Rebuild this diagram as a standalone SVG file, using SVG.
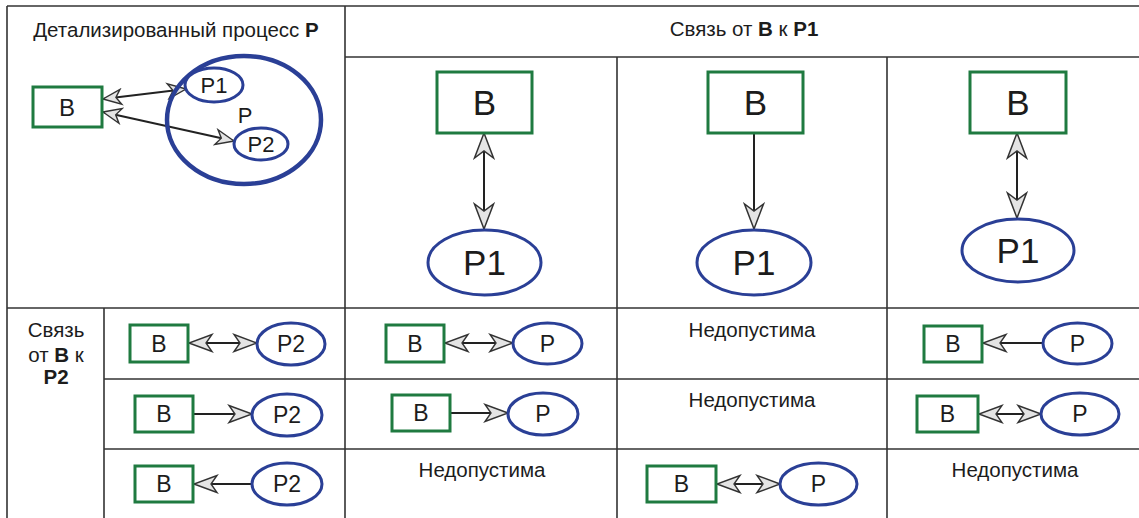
<svg xmlns="http://www.w3.org/2000/svg" width="1139" height="518" viewBox="0 0 1139 518">
<style>
.grid{stroke:#333;stroke-width:1.6;fill:none}
.b{fill:#fff;stroke:#1f7a40;stroke-width:3}
.p{fill:#fff;stroke:#2a3f96;stroke-width:3}
.pbig{fill:none;stroke:#2a3f96;stroke-width:4.5}
text{font-family:"Liberation Sans",Arial,sans-serif;fill:#1c1c1c;text-anchor:middle}
.t{font-size:20.5px}
.s{font-size:23px}
.L{font-size:35px}
.bold{font-weight:bold}
.c{stroke:#222;stroke-width:2;fill:none}
</style>
<defs>
<marker id="sm" viewBox="-20 -9 22 18" refX="0" refY="0" markerWidth="22" markerHeight="18" markerUnits="userSpaceOnUse" orient="auto-start-reverse">
<path d="M0,0 L-18,-7.5 L-13,0 L-18,7.5 Z" fill="#e4e4e4" stroke="#333" stroke-width="1.4"/>
</marker>
<marker id="md" viewBox="-25 -10 27 20" refX="0" refY="0" markerWidth="27" markerHeight="20" markerUnits="userSpaceOnUse" orient="auto-start-reverse">
<path d="M0,0 L-23,-8.5 L-17,0 L-23,8.5 Z" fill="#e4e4e4" stroke="#333" stroke-width="1.4"/>
</marker>
<marker id="lg" viewBox="-27 -11 29 22" refX="0" refY="0" markerWidth="29" markerHeight="22" markerUnits="userSpaceOnUse" orient="auto-start-reverse">
<path d="M0,0 L-25,-9.5 L-18,0 L-25,9.5 Z" fill="#e4e4e4" stroke="#333" stroke-width="1.5"/>
</marker>
</defs>
<rect x="0" y="0" width="1139" height="518" fill="#fff"/>
<g id="table" class="grid">
<line x1="7" y1="6" x2="1139" y2="6"/>
<line x1="7" y1="6" x2="7" y2="518"/>
<line x1="345" y1="6" x2="345" y2="518"/>
<line x1="345" y1="57" x2="1139" y2="57"/>
<line x1="617" y1="57" x2="617" y2="518"/>
<line x1="887" y1="57" x2="887" y2="518"/>
<line x1="7" y1="308" x2="1139" y2="308"/>
<line x1="104" y1="308" x2="104" y2="518"/>
<line x1="104" y1="379" x2="1139" y2="379"/>
<line x1="104" y1="449" x2="1139" y2="449"/>
</g>
<g id="headers">
<text class="t" x="176" y="37">Детализированный процесс <tspan class="bold">P</tspan></text>
<text class="t" x="744" y="36">Связь от <tspan class="bold">B</tspan> к <tspan class="bold">P1</tspan></text>
<text class="t" x="56" y="337">Связь</text>
<text class="t" x="56" y="362">от <tspan class="bold">B</tspan> к</text>
<text class="t bold" x="56" y="384">P2</text>
</g>
<g id="connectors">
<line class="c" x1="103" y1="99" x2="186" y2="89" marker-start="url(#sm)" marker-end="url(#sm)"/>
<line class="c" x1="103" y1="112" x2="234" y2="141" marker-start="url(#sm)" marker-end="url(#sm)"/>
<line class="c" x1="484" y1="133" x2="484" y2="229" marker-start="url(#lg)" marker-end="url(#lg)"/>
<line class="c" x1="754" y1="133" x2="754" y2="229" marker-end="url(#lg)"/>
<line class="c" x1="1017" y1="133" x2="1017" y2="218" marker-start="url(#lg)" marker-end="url(#lg)"/>
<line class="c" x1="189" y1="343" x2="257" y2="343" marker-start="url(#md)" marker-end="url(#md)"/>
<line class="c" x1="194" y1="414" x2="252" y2="414" marker-end="url(#md)"/>
<line class="c" x1="252" y1="484" x2="194" y2="484" marker-end="url(#md)"/>
<line class="c" x1="445" y1="343" x2="513" y2="343" marker-start="url(#md)" marker-end="url(#md)"/>
<line class="c" x1="451" y1="413" x2="508" y2="413" marker-end="url(#md)"/>
<line class="c" x1="717" y1="484" x2="780" y2="484" marker-start="url(#md)" marker-end="url(#md)"/>
<line class="c" x1="1043" y1="343" x2="983" y2="343" marker-end="url(#md)"/>
<line class="c" x1="979" y1="414" x2="1041" y2="414" marker-start="url(#md)" marker-end="url(#md)"/>
</g>
<g id="detail-B"><rect class="b" x="33" y="87" width="69" height="40"/><text x="67" y="116" font-size="24">B</text></g>
<g id="detail-P"><ellipse class="pbig" cx="244" cy="120" rx="77" ry="64"/><text x="245" y="123" font-size="22">P</text></g>
<g id="detail-P1"><ellipse class="p" cx="214" cy="85" rx="29" ry="17"/><text x="214" y="93" font-size="22">P1</text></g>
<g id="detail-P2"><ellipse class="p" cx="261" cy="144" rx="27" ry="16"/><text x="261" y="152" font-size="22">P2</text></g>

<g id="c2-B"><rect class="b" x="437" y="72" width="95" height="61"/><text class="L" x="484.5" y="115">B</text></g>
<g id="c2-P1"><ellipse class="p" cx="484.5" cy="262.5" rx="56.5" ry="32.5"/><text class="L" x="484.5" y="275">P1</text></g>
<g id="c3-B"><rect class="b" x="708" y="72" width="95" height="61"/><text class="L" x="755.5" y="115">B</text></g>
<g id="c3-P1"><ellipse class="p" cx="754" cy="262.5" rx="57" ry="32.5"/><text class="L" x="754" y="275">P1</text></g>
<g id="c4-B"><rect class="b" x="970" y="72" width="96" height="61"/><text class="L" x="1018" y="115">B</text></g>
<g id="c4-P1"><ellipse class="p" cx="1018" cy="250.5" rx="56" ry="31.5"/><text class="L" x="1018" y="263">P1</text></g>

<g id="r1-B"><rect class="b" x="130" y="325" width="58" height="37"/><text class="s" x="159" y="352">B</text></g>
<g id="r1-P2"><ellipse class="p" cx="291" cy="344" rx="34" ry="21"/><text class="s" x="291" y="352">P2</text></g>
<g id="r2-B"><rect class="b" x="135" y="396" width="58" height="36"/><text class="s" x="164" y="422">B</text></g>
<g id="r2-P2"><ellipse class="p" cx="287" cy="415" rx="35" ry="21"/><text class="s" x="287" y="423">P2</text></g>
<g id="r3-B"><rect class="b" x="135" y="466" width="58" height="36"/><text class="s" x="164" y="492">B</text></g>
<g id="r3-P2"><ellipse class="p" cx="287" cy="484" rx="35" ry="21"/><text class="s" x="287" y="492">P2</text></g>

<g id="r1c2-B"><rect class="b" x="386" y="325" width="58" height="37"/><text class="s" x="415" y="352">B</text></g>
<g id="r1c2-P"><ellipse class="p" cx="547.5" cy="343.5" rx="34.5" ry="20.5"/><text class="s" x="547.5" y="352">P</text></g>
<g id="r2c2-B"><rect class="b" x="392" y="395" width="58" height="36"/><text class="s" x="421" y="421">B</text></g>
<g id="r2c2-P"><ellipse class="p" cx="543" cy="414" rx="35" ry="21"/><text class="s" x="543" y="422">P</text></g>
<g id="r3c2"><text class="t" x="482" y="477">Недопустима</text></g>

<g id="r1c3"><text class="t" x="752" y="337">Недопустима</text></g>
<g id="r2c3"><text class="t" x="752" y="407">Недопустима</text></g>
<g id="r3c3-B"><rect class="b" x="647" y="466" width="69" height="36"/><text class="s" x="681.5" y="492">B</text></g>
<g id="r3c3-P"><ellipse class="p" cx="818.5" cy="484" rx="38.5" ry="21"/><text class="s" x="818.5" y="492">P</text></g>

<g id="r1c4-B"><rect class="b" x="924" y="326" width="58" height="36"/><text class="s" x="953" y="352">B</text></g>
<g id="r1c4-P"><ellipse class="p" cx="1077.5" cy="343.5" rx="34.5" ry="20.5"/><text class="s" x="1077.5" y="352">P</text></g>
<g id="r2c4-B"><rect class="b" x="917" y="396" width="61" height="36"/><text class="s" x="947.5" y="422">B</text></g>
<g id="r2c4-P"><ellipse class="p" cx="1080" cy="414" rx="39" ry="21"/><text class="s" x="1080" y="422">P</text></g>
<g id="r3c4"><text class="t" x="1015" y="477">Недопустима</text></g>
</svg>
